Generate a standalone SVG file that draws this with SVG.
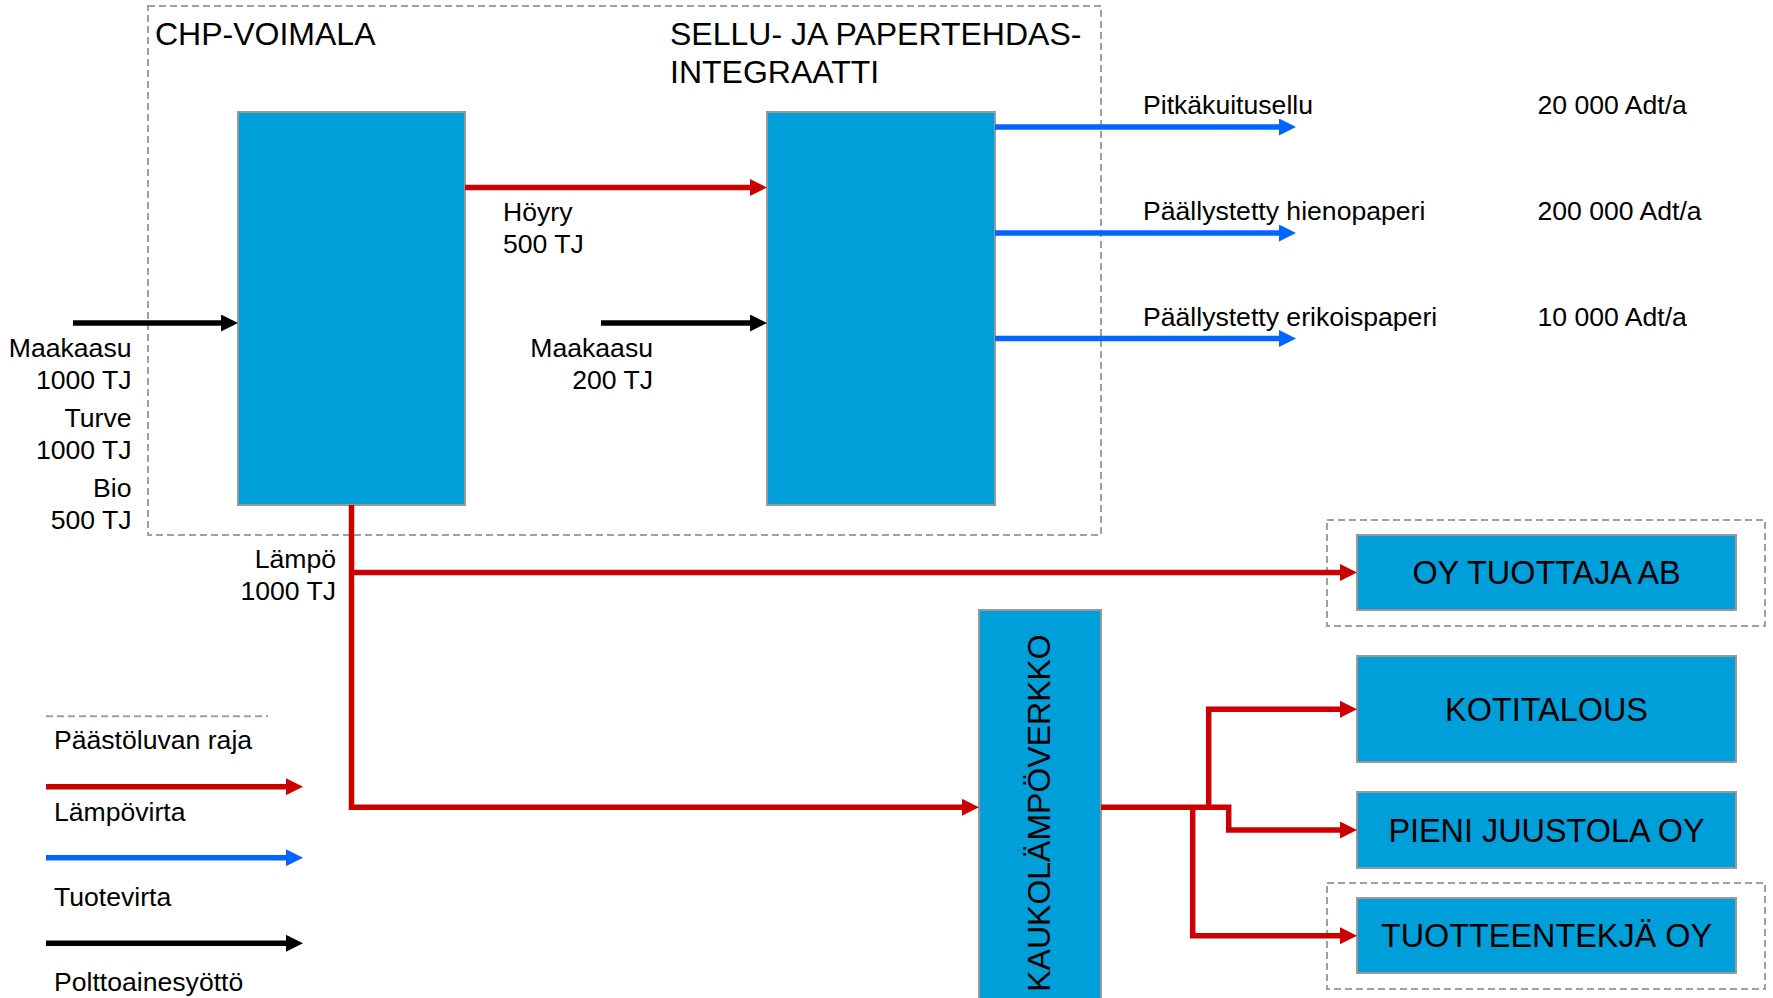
<svg xmlns="http://www.w3.org/2000/svg" width="1773" height="998" viewBox="0 0 1773 998">
<style>
text{font-family:"Liberation Sans",Arial,sans-serif;fill:#000}
.t26{font-size:26.6px}
.t31{font-size:32px}
.tb{font-size:32.4px}
.box{fill:#009FD9;stroke:#999;stroke-width:2}
.bound{fill:none;stroke:#A0A0A0;stroke-width:2;stroke-dasharray:7 4}
.red{fill:none;stroke:#CC0000;stroke-width:5.5}
.blue{fill:none;stroke:#0066FF;stroke-width:5.5}
.black{fill:none;stroke:#000;stroke-width:5.5}
.mid{text-anchor:middle}
.end{text-anchor:end}
</style>
<defs>
<marker id="ar" viewBox="0 0 17 17" refX="7" refY="8.5" markerWidth="17" markerHeight="17" markerUnits="userSpaceOnUse" orient="auto"><path d="M0,0 L17,8.5 L0,17 z" fill="#CC0000"/></marker>
<marker id="ab" viewBox="0 0 17 17" refX="7" refY="8.5" markerWidth="17" markerHeight="17" markerUnits="userSpaceOnUse" orient="auto"><path d="M0,0 L17,8.5 L0,17 z" fill="#0066FF"/></marker>
<marker id="ak" viewBox="0 0 17 17" refX="7" refY="8.5" markerWidth="17" markerHeight="17" markerUnits="userSpaceOnUse" orient="auto"><path d="M0,0 L17,8.5 L0,17 z" fill="#000"/></marker>
</defs>
<rect width="1773" height="998" fill="#fff"/>

<g id="boundaries">
<rect class="bound" x="148" y="6" width="953" height="529"/>
<rect class="bound" x="1327" y="520" width="438" height="106"/>
<rect class="bound" x="1327" y="883" width="438" height="106"/>
<text class="t31" x="155" y="44.6">CHP-VOIMALA</text>
<text class="t31" x="670" y="44.6">SELLU- JA PAPERTEHDAS-</text>
<text class="t31" x="670" y="82.9">INTEGRAATTI</text>
</g>

<g id="chp"><rect class="box" x="238" y="112" width="227" height="393"/></g>
<g id="paper"><rect class="box" x="767" y="112" width="228" height="393"/></g>
<g id="kauko">
<rect class="box" x="979" y="610" width="122" height="400"/>
<text class="t31 mid" transform="translate(1050,813) rotate(-90)">KAUKOLÄMPÖVERKKO</text>
</g>
<g id="oy"><rect class="box" x="1357" y="535" width="379" height="75"/><text class="tb mid" x="1546.5" y="584">OY TUOTTAJA AB</text></g>
<g id="koti"><rect class="box" x="1357" y="656" width="379" height="106"/><text class="tb mid" x="1546.5" y="720.5">KOTITALOUS</text></g>
<g id="pieni"><rect class="box" x="1357" y="792" width="379" height="76"/><text class="tb mid" x="1546.5" y="841.5">PIENI JUUSTOLA OY</text></g>
<g id="tuott"><rect class="box" x="1357" y="898" width="379" height="75"/><text class="tb mid" x="1546.5" y="947">TUOTTEENTEKJÄ OY</text></g>

<g id="connectors">
<path class="red" d="M465,187.5 H757" marker-end="url(#ar)"/>
<path class="black" d="M73,323 H228" marker-end="url(#ak)"/>
<path class="black" d="M601,323 H757" marker-end="url(#ak)"/>
<path class="blue" d="M995,127 H1286" marker-end="url(#ab)"/>
<path class="blue" d="M995,233 H1286" marker-end="url(#ab)"/>
<path class="blue" d="M995,338.5 H1286" marker-end="url(#ab)"/>
<path class="red" d="M351.5,505 V807.3 H969" marker-end="url(#ar)"/>
<path class="red" d="M351.5,572.5 H1347" marker-end="url(#ar)"/>
<path class="red" d="M1101,807.3 H1228.7 V830 H1347" marker-end="url(#ar)"/>
<path class="red" d="M1208.7,807.3 V709.3 H1347" marker-end="url(#ar)"/>
<path class="red" d="M1192.7,807.3 V935.7 H1347" marker-end="url(#ar)"/>
</g>

<g id="labels">
<text class="t26" x="503" y="220.7">Höyry</text>
<text class="t26" x="503" y="252.9">500 TJ</text>
<text class="t26 end" x="131.5" y="357">Maakaasu</text>
<text class="t26 end" x="131.5" y="388.6">1000 TJ</text>
<text class="t26 end" x="131.5" y="426.8">Turve</text>
<text class="t26 end" x="131.5" y="459">1000 TJ</text>
<text class="t26 end" x="131.5" y="497">Bio</text>
<text class="t26 end" x="131.5" y="529">500 TJ</text>
<text class="t26 end" x="653" y="357">Maakaasu</text>
<text class="t26 end" x="653" y="388.6">200 TJ</text>
<text class="t26" x="1143" y="114.3">Pitkäkuitusellu</text>
<text class="t26" x="1143" y="220.4">Päällystetty hienopaperi</text>
<text class="t26" x="1143" y="326">Päällystetty erikoispaperi</text>
<text class="t26" x="1537.5" y="114.3">20 000 Adt/a</text>
<text class="t26" x="1537.5" y="220.4">200 000 Adt/a</text>
<text class="t26" x="1537.5" y="326">10 000 Adt/a</text>
<text class="t26 end" x="336" y="568.3">Lämpö</text>
<text class="t26 end" x="336" y="600">1000 TJ</text>
</g>

<g id="legend">
<line class="bound" x1="46" y1="716.3" x2="268" y2="716.3"/>
<text class="t26" x="54" y="749.3">Päästöluvan raja</text>
<path class="red" d="M46,786.7 H293" marker-end="url(#ar)"/>
<text class="t26" x="54" y="821">Lämpövirta</text>
<path class="blue" d="M46,857.7 H293" marker-end="url(#ab)"/>
<text class="t26" x="54" y="905.7">Tuotevirta</text>
<path class="black" d="M46,943.3 H293" marker-end="url(#ak)"/>
<text class="t26" x="54" y="990.7">Polttoainesyöttö</text>
</g>
</svg>
